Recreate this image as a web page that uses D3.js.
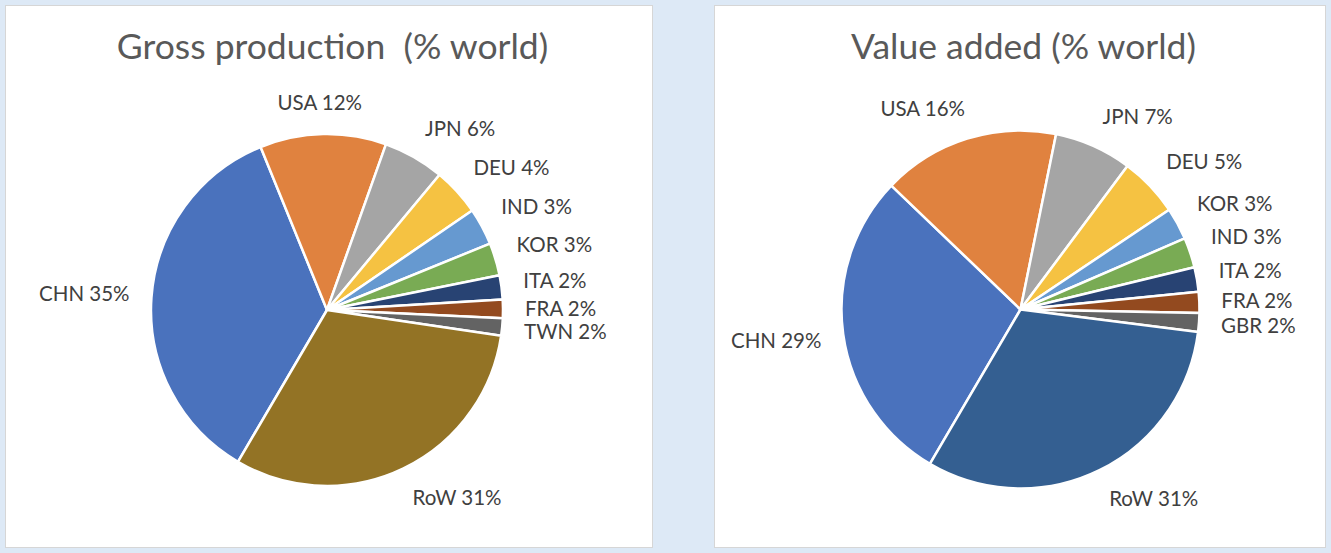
<!DOCTYPE html>
<html>
<head>
<meta charset="utf-8">
<script src="https://cdn.jsdelivr.net/npm/d3@7"></script>
<style>
  html, body { margin: 0; padding: 0; background: #dde9f6; }
  svg { display: block; }
</style>
</head>
<body>
<script>
// data
var grossCountries = ["CHN", "USA", "JPN", "DEU", "IND", "KOR", "ITA", "FRA", "TWN", "RoW"];
var grossValues = [35.4, 11.6, 5.6, 4.4, 3.4, 3.0, 2.2, 1.7, 1.6, 31.1];
var grossColors = ["#4a72bd", "#e0823f", "#a5a5a5", "#f5c242", "#6699d0", "#79ab54", "#284373", "#934a1f", "#636363", "#937325"];

var valueCountries = ["CHN", "USA", "JPN", "DEU", "KOR", "IND", "ITA", "FRA", "GBR", "RoW"];
var valueValues = [28.7, 16.0, 7.0, 5.4, 2.9, 2.7, 2.2, 1.9, 1.7, 31.4];
var valueColors = ["#4a72bd", "#e0823f", "#a5a5a5", "#f5c242", "#6699d0", "#79ab54", "#284373", "#934a1f", "#636363", "#345f91"];

var titles = ["Gross production  (% world)", "Value added (% world)"];

// variables
var width = 1331;
var height = 553;
var firstAngle = 210.4 * Math.PI / 180;
var labelGap = 22;
var fontFamily = "Lato, 'Open Sans', sans-serif";

var svg = d3.select("body").append("svg")
    .attr("width", width)
    .attr("height", height);

// one white panel per chart
var panels = [
  {x: 5, y: 5, w: 647, h: 542, cx: 327, cy: 310, r: 176,
   names: grossCountries, values: grossValues, colors: grossColors, title: titles[0]},
  {x: 714, y: 5, w: 611, h: 542, cx: 1020.5, cy: 309.5, r: 179,
   names: valueCountries, values: valueValues, colors: valueColors, title: titles[1]}
];

panels.forEach(function(p) {
  svg.append("rect")
      .attr("x", p.x + 0.5)
      .attr("y", p.y + 0.5)
      .attr("width", p.w)
      .attr("height", p.h)
      .attr("fill", "#fff")
      .attr("stroke", "#d6d6d6");

  svg.append("text")
      .attr("x", p.x + p.w / 2 + 4)
      .attr("y", 59)
      .attr("text-anchor", "middle")
      .style("font-family", fontFamily)
      .style("font-size", "35.5px")
      .style("fill", "#595959")
      .style("white-space", "pre")
      .text(p.title);

  var rows = p.names.map(function(n, i) {
    return {name: n, value: p.values[i], color: p.colors[i]};
  });

  var pie = d3.pie()
      .sort(null)
      .value(function(d) { return d.value; })
      .startAngle(firstAngle)
      .endAngle(firstAngle + 2 * Math.PI);

  var arc = d3.arc()
      .innerRadius(0)
      .outerRadius(p.r);

  var g = svg.append("g")
      .attr("transform", "translate(" + p.cx + "," + p.cy + ")");

  var arcs = pie(rows);

  g.selectAll("path")
    .data(arcs)
    .enter()
    .append("path")
      .attr("d", arc)
      .attr("fill", function(d) { return d.data.color; })
      .attr("stroke", "#fff")
      .attr("stroke-width", 2.5)
      .attr("stroke-linejoin", "round");

  // outside end labels, box corner pushed out along the mid angle
  var labels = g.selectAll("text.lbl")
    .data(arcs)
    .enter()
    .append("text")
      .attr("class", "lbl")
      .attr("text-anchor", "middle")
      .attr("dy", "0.35em")
      .style("font-family", fontFamily)
      .style("font-size", "20.5px")
      .style("fill", "#404040")
      .text(function(d) { return d.data.name + " " + Math.round(d.data.value) + "%"; });

  labels.each(function(d) {
    var a = (d.startAngle + d.endAngle) / 2;
    var w = this.getComputedTextLength();
    var h = 18;
    var rr = p.r + labelGap;
    var sx = Math.max(-1, Math.min(1, Math.sin(a) * 3));
    var sy = Math.max(-1, Math.min(1, Math.cos(a) * 3));
    var x = rr * Math.sin(a) + sx * w / 2;
    var y = -rr * Math.cos(a) - sy * h / 2;
    d3.select(this).attr("x", x).attr("y", y);
  });
});
</script>
</body>
</html>
